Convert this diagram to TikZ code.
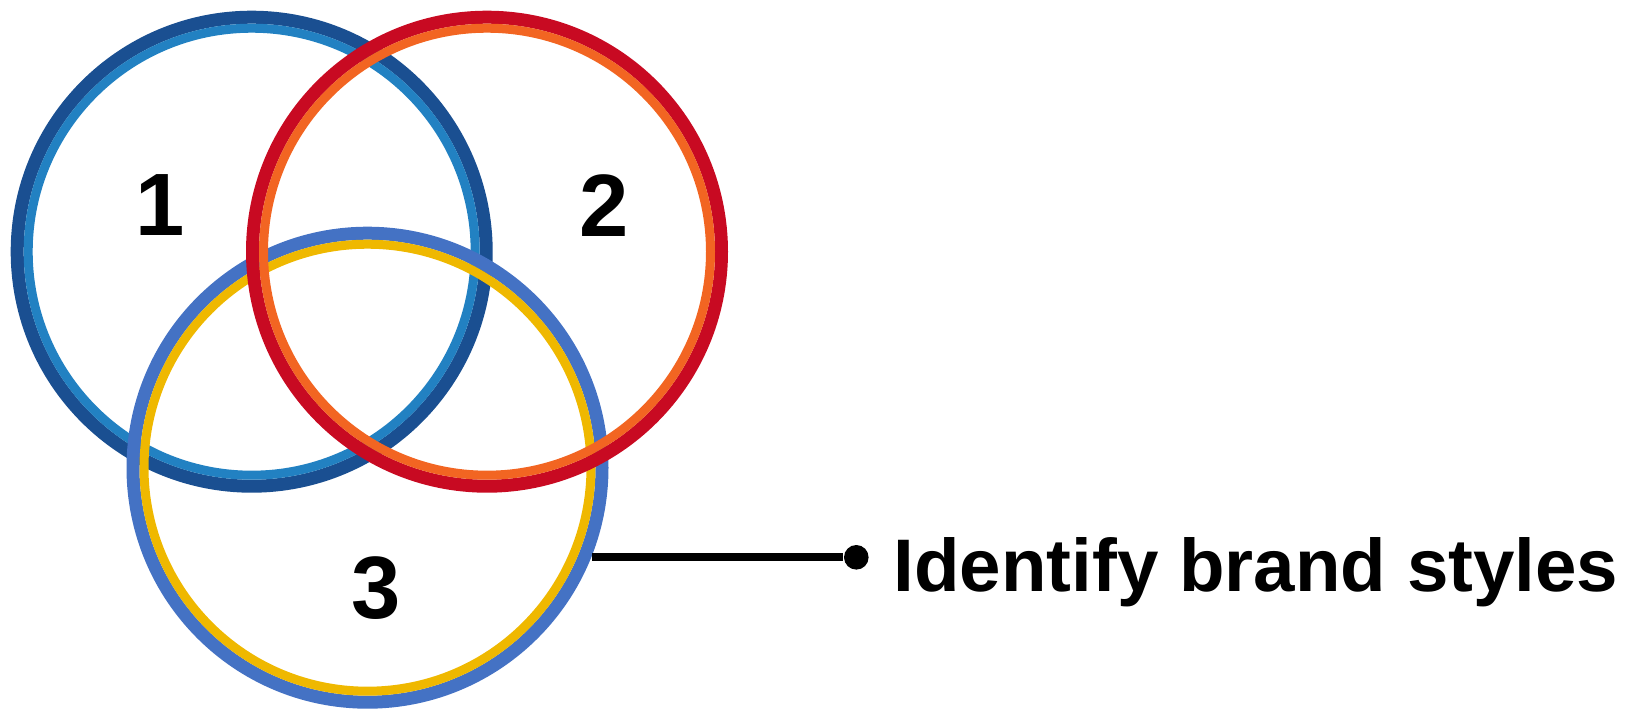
\documentclass[tikz,border=0pt]{standalone}
\usepackage{fontspec}
\setmainfont{Liberation Sans}
\usetikzlibrary{positioning}

\definecolor{oneOut}{HTML}{1A4F91}
\definecolor{oneIn}{HTML}{2281C2}
\definecolor{twoOut}{HTML}{C80A22}
\definecolor{twoIn}{HTML}{F26522}
\definecolor{threeOut}{HTML}{4472C4}
\definecolor{threeIn}{HTML}{EFB800}

\begin{document}
\begin{tikzpicture}[
  ring/.style={circle, draw, inner sep=0pt, line width=1.3mm,
               minimum size=46.9mm},
  inring/.style={circle, draw, inner sep=0pt, line width=0.9mm,
                 minimum size=44.7mm},
  digit/.style={inner sep=0pt, font=\fontsize{25.2pt}{30pt}\selectfont\bfseries},
  caption/.style={inner sep=0pt, font=\fontsize{21.2pt}{26pt}\selectfont\bfseries},
  dotnode/.style={circle, fill=black, inner sep=0pt, minimum size=2.46mm},
  leader/.style={line width=0.8mm},
]
\useasboundingbox (0,0) rectangle (16.30,7.09);

% ============ three rings (back to front) ============
\node[ring, draw=oneOut] (c1) at (2.517,4.573) {};
\node[inring, draw=oneIn] (c1in) at (c1) {};

\node[ring, draw=threeOut] (c3) at (3.675,2.413) {};
\node[inring, draw=threeIn] (c3in) at (c3) {};

\node[ring, draw=twoOut] (c2) at (4.870,4.573) {};
\node[inring, draw=twoIn] (c2in) at (c2) {};

% ---- numbers ----
\node[digit] (n1) at (1.60,5.035) {1};
\node[digit] (n2) at (6.04,5.035) {2};
\node[digit] (n3) at (3.76,1.205) {3};

% ============ callout ============
\node[dotnode] (dot) at (8.563,1.517) {};
\draw[leader] (c3.-21.8 |- dot) -- (dot);
\node[caption, anchor=base west] (lbl) at (8.93,1.173) {Identify brand styles};

\end{tikzpicture}
\end{document}
